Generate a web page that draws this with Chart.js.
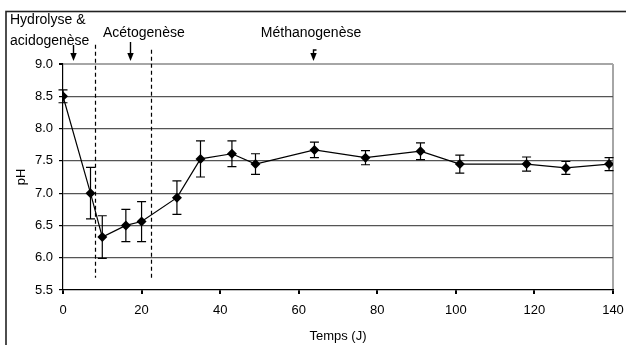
<!DOCTYPE html>
<html>
<head>
<meta charset="utf-8">
<script src="https://cdn.jsdelivr.net/npm/chart.js@4"></script>
<style>
  html, body { margin: 0; padding: 0; background: #fff; }
  #wrap { width: 626px; height: 345px; }
</style>
</head>
<body>
<div id="wrap"><canvas id="ph-chart" width="626" height="345"></canvas></div>
<script>
const days = [0, 7, 10, 16, 20, 29, 35, 43, 49, 64, 77, 91, 101, 118, 128, 139];
const phValues = [8.5, 7.0, 6.32, 6.5, 6.56, 6.93, 7.53, 7.61, 7.45, 7.67, 7.55, 7.65, 7.45, 7.45, 7.39, 7.45];
const phErrors = [0.1, 0.4, 0.33, 0.25, 0.31, 0.26, 0.28, 0.2, 0.16, 0.12, 0.11, 0.13, 0.14, 0.11, 0.1, 0.1];

// phase boundaries (days) and phase label arrows
const phaseBounds = [8.25, 22.5];
const phaseArrows = [2.6, 17.0, 63.7];
const phaseLabels = [['Hydrolyse &', 'acidogenèse'], ['Acétogenèse'], ['Méthanogenèse']];

const FONT = 'Liberation Sans, Arial, sans-serif';

const errorBars = {
  id: 'errorBars',
  afterDatasetsDraw(chart) {
    const { ctx, scales: { x, y } } = chart;
    ctx.save();
    ctx.strokeStyle = '#000';
    ctx.lineWidth = 1.2;
    days.forEach((d, i) => {
      const px = x.getPixelForValue(d);
      const top = y.getPixelForValue(phValues[i] + phErrors[i]);
      const bot = y.getPixelForValue(phValues[i] - phErrors[i]);
      ctx.beginPath();
      ctx.moveTo(px, top); ctx.lineTo(px, bot);
      ctx.moveTo(px - 4.5, top); ctx.lineTo(px + 4.5, top);
      ctx.moveTo(px - 4.5, bot); ctx.lineTo(px + 4.5, bot);
      ctx.stroke();
    });
    ctx.restore();
  }
};

const phases = {
  id: 'phases',
  afterDraw(chart) {
    const { ctx, scales: { x, y } } = chart;
    ctx.save();
    // outer frame
    ctx.strokeStyle = '#222';
    ctx.lineWidth = 1.6;
    ctx.strokeRect(6, 11.5, 700, 400);

    // dashed phase boundaries
    ctx.strokeStyle = '#000';
    ctx.lineWidth = 1.2;
    ctx.setLineDash([4, 3]);
    const tops = [9.3, 9.22];
    phaseBounds.forEach((b, i) => {
      const px = Math.round(x.getPixelForValue(b)) + 0.5;
      ctx.beginPath();
      ctx.moveTo(px, y.getPixelForValue(tops[i]));
      ctx.lineTo(px, y.getPixelForValue(5.69));
      ctx.stroke();
    });
    ctx.setLineDash([]);

    // labels
    ctx.fillStyle = '#000';
    ctx.font = '14px ' + FONT;
    ctx.textBaseline = 'middle';
    ctx.textAlign = 'left';
    ctx.fillText(phaseLabels[0][0], 10, 20);
    ctx.fillText(phaseLabels[0][1], 10, 41);
    ctx.fillText(phaseLabels[1][0], 103, 33);
    ctx.textAlign = 'center';
    ctx.fillText(phaseLabels[2][0], 311, 33);

    // arrows
    const arrowTops = [45, 42, 50];
    phaseArrows.forEach((a, i) => {
      const px = Math.round(x.getPixelForValue(a)) + 0.5;
      const end = 61;
      ctx.lineWidth = 1.4;
      ctx.beginPath();
      if (i === 2) { ctx.moveTo(px + 3, arrowTops[i]); ctx.lineTo(px, arrowTops[i]); }
      else ctx.moveTo(px, arrowTops[i]);
      ctx.lineTo(px, end - 6);
      ctx.stroke();
      ctx.beginPath();
      ctx.moveTo(px - 3.2, end - 8);
      ctx.lineTo(px + 3.2, end - 8);
      ctx.lineTo(px, end);
      ctx.closePath();
      ctx.fill();
    });
    ctx.restore();
  }
};

new Chart(document.getElementById('ph-chart'), {
  type: 'scatter',
  data: {
    datasets: [{
      data: days.map((d, i) => ({ x: d, y: phValues[i] })),
      showLine: true,
      borderColor: '#000',
      borderWidth: 1.2,
      pointStyle: 'rectRot',
      pointRadius: 5,
      pointHoverRadius: 5,
      pointBackgroundColor: '#000',
      pointBorderColor: '#000',
      pointBorderWidth: 0
    }]
  },
  options: {
    responsive: false,
    animation: false,
    layout: { padding: { top: 64, right: 13, left: 0, bottom: 0 } },
    plugins: {
      legend: { display: false },
      tooltip: { enabled: false }
    },
    scales: {
      x: {
        type: 'linear',
        min: 0,
        max: 140,
        afterFit: (s) => { s.height = 55; s.paddingLeft = 0; s.paddingRight = 0; },
        ticks: { stepSize: 20, color: '#000', font: { size: 13, family: FONT }, padding: 9, maxRotation: 0 },
        border: { color: '#000', width: 1.2 },
        grid: {
          color: (c) => (c.tick && c.tick.value === 140 ? '#a6a6a6' : 'rgba(0,0,0,0)'),
          lineWidth: 2,
          tickColor: '#000',
          tickLength: 4
        },
        title: { display: true, text: 'Temps (J)', color: '#000', font: { size: 13, family: FONT }, padding: { top: 2, bottom: 1 } }
      },
      y: {
        min: 5.5,
        max: 9.0,
        afterFit: (s) => { s.width = 63; },
        ticks: { stepSize: 0.5, color: '#000', font: { size: 13, family: FONT }, padding: 6, callback: (v) => v.toFixed(1) },
        border: { color: '#000', width: 1.2 },
        grid: {
          color: (c) => {
            const v = c.tick && c.tick.value;
            if (v === 9) return '#a6a6a6';
            if (v === 5.5) return 'rgba(0,0,0,0)';
            return '#555';
          },
          lineWidth: (c) => (c.tick && c.tick.value === 9 ? 2 : 1.2),
          tickColor: '#000',
          tickLength: 4
        },
        title: { display: true, text: 'pH', color: '#000', font: { size: 13, family: FONT }, padding: { top: 14, bottom: 0 } }
      }
    }
  },
  plugins: [errorBars, phases]
});
</script>
</body>
</html>
